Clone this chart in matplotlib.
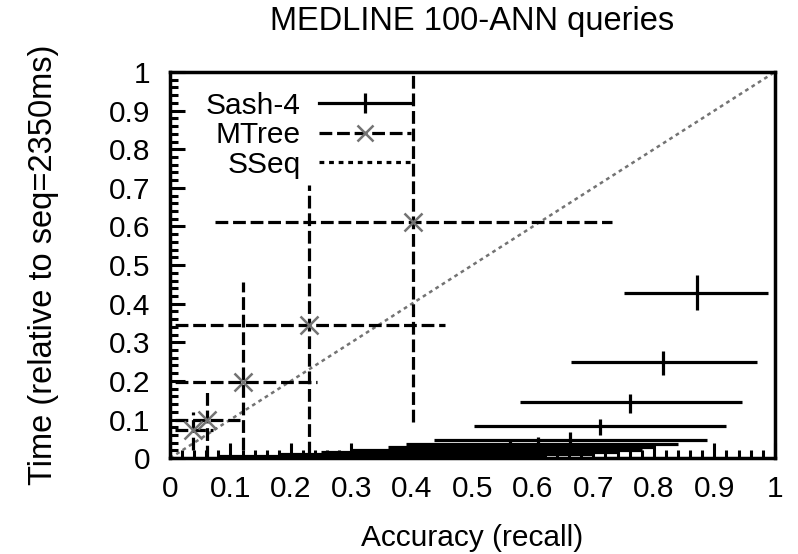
import numpy as np
import matplotlib
matplotlib.use("Agg")
import matplotlib.pyplot as plt
from matplotlib.lines import Line2D
from matplotlib.ticker import MultipleLocator, FormatStrFormatter

plt.rcParams['font.family'] = ['Liberation Sans', 'DejaVu Sans']

# ---------------------------------------------------------------------------
# datos
# ---------------------------------------------------------------------------
# Sash-4: recall, tiempo y barras de error (min, max)
sash_x = [0.871, 0.815, 0.760, 0.711, 0.661, 0.608, 0.562, 0.500, 0.451, 0.400, 0.300]
sash_y = [0.427, 0.249, 0.145, 0.083, 0.047, 0.036, 0.028, 0.022, 0.016, 0.011, 0.006]
sash_xlo = [0.750, 0.663, 0.579, 0.502, 0.436, 0.390, 0.360, 0.300, 0.250, 0.180, 0.080]
sash_xhi = [0.988, 0.970, 0.945, 0.919, 0.888, 0.840, 0.800, 0.780, 0.740, 0.700, 0.620]
sash_ylo = [0.383, 0.215, 0.117, 0.060, 0.026, 0.018, 0.012, 0.008, 0.004, 0.002, 0.000]
sash_yhi = [0.474, 0.277, 0.166, 0.101, 0.067, 0.055, 0.045, 0.038, 0.030, 0.022, 0.014]

# MTree
mtree_x = [0.402, 0.230, 0.121, 0.061, 0.038]
mtree_y = [0.611, 0.345, 0.197, 0.098, 0.072]
mtree_xlo = [0.074, -0.05, -0.05, 0.008, 0.008]
mtree_xhi = [0.731, 0.455, 0.243, 0.116, 0.071]
mtree_ylo = [0.093, 0.010, 0.020, 0.000, 0.020]
mtree_yhi = [1.050, 0.707, 0.456, 0.179, 0.120]

# SSeq (referencia diagonal)
sseq_x = [0.0, 1.0]
sseq_y = [0.0, 1.0]

LW = 2.3

# ---------------------------------------------------------------------------
fig = plt.figure(figsize=(7.98, 5.54), dpi=100)
ax = fig.add_axes([0.213, 0.173, 0.758, 0.697])

sx = np.array(sash_x); sy = np.array(sash_y)
ax.errorbar(sx, sy,
            xerr=[sx - np.array(sash_xlo), np.array(sash_xhi) - sx],
            yerr=[sy - np.array(sash_ylo), np.array(sash_yhi) - sy],
            fmt='none', ecolor='k', elinewidth=LW, capsize=0, zorder=3)

mx = np.array(mtree_x); my = np.array(mtree_y)
mtree = ax.errorbar(mx, my,
                    xerr=[mx - np.array(mtree_xlo), np.array(mtree_xhi) - mx],
                    yerr=[my - np.array(mtree_ylo), np.array(mtree_yhi) - my],
                    fmt='x', color='0.45', mew=1.8, ms=13,
                    ecolor='k', elinewidth=LW, capsize=0, zorder=4)
for lc in mtree[2]:
    lc.set_linestyle((0, (4, 1.5)))

ax.plot(sseq_x, sseq_y, color='0.45', lw=1.8, dashes=(1.5, 1.5), zorder=2)

ax.set_xlim(0, 1)
ax.set_ylim(0, 1)

ax.xaxis.set_major_locator(MultipleLocator(0.1))
ax.yaxis.set_major_locator(MultipleLocator(0.1))
ax.xaxis.set_minor_locator(MultipleLocator(0.02))
ax.yaxis.set_minor_locator(MultipleLocator(0.02))
ax.xaxis.set_major_formatter(FormatStrFormatter('%g'))
ax.yaxis.set_major_formatter(FormatStrFormatter('%g'))

ax.tick_params(which='both', direction='in', top=False, right=False,
               width=2.2, labelsize=21.5)
ax.tick_params(which='major', length=11)
ax.tick_params(which='minor', length=6)
ax.tick_params(axis='x', pad=12)
ax.tick_params(axis='y', pad=14)
for sp in ax.spines.values():
    sp.set_linewidth(2.5)

ax.set_title('MEDLINE 100-ANN queries', fontsize=23.5, pad=30)
ax.set_xlabel('Accuracy (recall)', fontsize=21.5, labelpad=15)
ax.set_ylabel('Time (relative to seq=2350ms)', fontsize=23.5, labelpad=36)

sash_handle = Line2D([], [], color='k', lw=LW, marker='|', ms=15, mew=LW)
mtree_handle = Line2D([], [], color='k', lw=LW, dashes=(4, 1.5), marker='x',
                      markeredgecolor='0.45', mew=1.8, ms=12)
sseq_handle = Line2D([], [], color='k', lw=LW, dashes=(1.5, 1.5))
ax.legend([sash_handle, mtree_handle, sseq_handle], ['Sash-4', 'MTree', 'SSeq'],
          loc='upper left', bbox_to_anchor=(0.03, 0.995), markerfirst=False,
          frameon=False, fontsize=21.5, handlelength=3.1, handletextpad=0.6,
          labelspacing=0.05, borderaxespad=0.2)

fig.savefig('out.png', dpi=100)
